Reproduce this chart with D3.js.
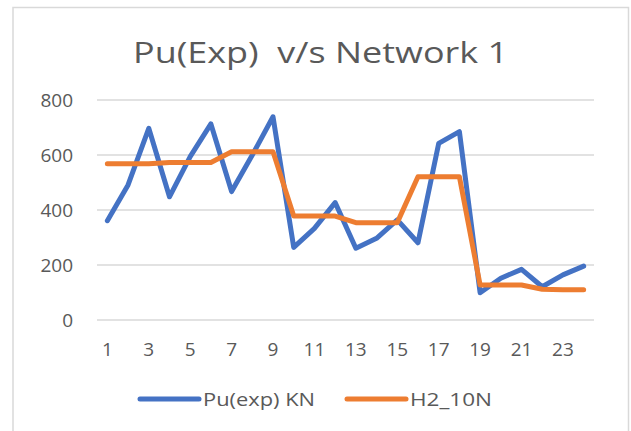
<!DOCTYPE html>
<html>
<head>
<meta charset="utf-8">
<script src="https://cdn.jsdelivr.net/npm/d3@7"></script>
<style>
  body { margin: 0; background: #fff; }
  text { font-family: "Open Sans", sans-serif; fill: #595959; }
</style>
</head>
<body>
<svg class="chart"></svg>
<script>
// x categories 1..24
var categories = [1,2,3,4,5,6,7,8,9,10,11,12,13,14,15,16,17,18,19,20,21,22,23,24];
var puExp = [361,491,697,448,594,713,467,600,739,264,333,427,261,297,364,281,642,685,99,152,184,121,164,196];
var h2_10n = [568,568,568,573,573,573,612,612,612,378,378,378,354,354,354,521,521,521,127,127,127,112,110,110];
var yTicks = [0,200,400,600,800];
var seriesNames = ["Pu(exp) KN", "H2_10N"];
var seriesColors = ["#4472c4", "#ed7d31"];

var width = 631, height = 431;
var margin = {top: 100, right: 37, bottom: 111, left: 97};

var svg = d3.select(".chart")
    .attr("width", width)
    .attr("height", height);

// chart frame (no bottom edge visible in the picture)
svg.append("path")
    .attr("d", "M13,431 V7.5 H628.5 V431")
    .attr("fill", "none")
    .attr("stroke", "#d9d9d9")
    .attr("stroke-width", 1.5);

var x = d3.scaleBand()
    .domain(categories)
    .range([margin.left, width - margin.right]);

var y = d3.scaleLinear()
    .domain([0, 800])
    .range([height - margin.bottom, margin.top]);

// gridlines
svg.append("g")
  .selectAll("line")
  .data(yTicks)
  .enter().append("line")
    .attr("x1", margin.left)
    .attr("x2", width - margin.right)
    .attr("y1", function(d) { return y(d); })
    .attr("y2", function(d) { return y(d); })
    .attr("stroke", "#d9d9d9")
    .attr("stroke-width", 1.5);

// y labels
var yAxis = d3.axisLeft(y).tickValues(yTicks).tickSize(0).tickPadding(0);
var gy = svg.append("g")
    .attr("transform", "translate(73,0)")
    .call(yAxis);
gy.select(".domain").remove();
gy.selectAll("text")
    .style("font-size", "19px")
    .attr("fill", "#595959")
    .attr("dy", "0.35em");

// x labels, every other category
var xAxis = d3.axisBottom(x)
    .tickValues(categories.filter(function(d) { return d % 2 == 1; }))
    .tickSize(0).tickPadding(0);
var gx = svg.append("g")
    .attr("transform", "translate(0,349)")
    .call(xAxis);
gx.select(".domain").remove();
gx.selectAll("text")
    .style("font-size", "19px")
    .attr("fill", "#595959")
    .attr("dy", "0.35em");

var line = d3.line()
    .x(function(d, i) { return x(categories[i]) + x.bandwidth() / 2; })
    .y(function(d) { return y(d); });

[puExp, h2_10n].forEach(function(s, i) {
  svg.append("path")
      .datum(s)
      .attr("d", line)
      .attr("fill", "none")
      .attr("stroke", seriesColors[i])
      .attr("stroke-width", 5)
      .attr("stroke-linejoin", "round")
      .attr("stroke-linecap", "round");
});

// title
svg.append("text")
    .attr("x", 133)
    .attr("y", 63)
    .attr("textLength", 375)
    .attr("lengthAdjust", "spacingAndGlyphs")
    .style("font-size", "29px")
    .style("white-space", "pre")
    .text("Pu(Exp)  v/s Network 1");

// legend
var legendX = [140, 347];
var legendW = [112, 82];
var legend = svg.append("g");
seriesNames.forEach(function(name, i) {
  legend.append("line")
      .attr("x1", legendX[i])
      .attr("x2", legendX[i] + 59)
      .attr("y1", 399)
      .attr("y2", 399)
      .attr("stroke", seriesColors[i])
      .attr("stroke-width", 5)
      .attr("stroke-linecap", "round");
  legend.append("text")
      .attr("x", legendX[i] + 63)
      .attr("y", 399)
      .attr("dy", "0.35em")
      .attr("textLength", legendW[i])
      .attr("lengthAdjust", "spacingAndGlyphs")
      .style("font-size", "19px")
      .text(name);
});
</script>
</body>
</html>
